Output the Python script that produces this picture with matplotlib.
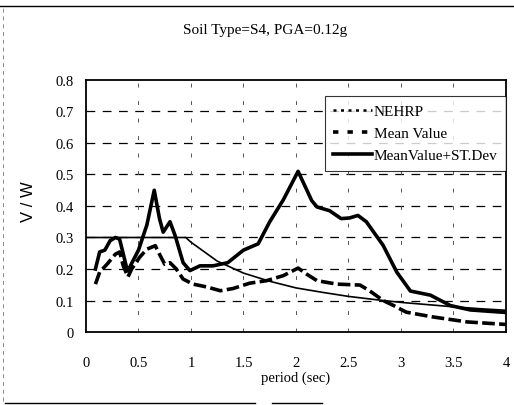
import matplotlib
matplotlib.use("Agg")
import matplotlib.pyplot as plt
from matplotlib.lines import Line2D

# NEHRP design spectrum
nehrp_T = [0.0, 0.95, 1.0, 1.25, 1.5, 1.75, 2.0, 2.25, 2.5, 2.75, 3.0, 3.25, 3.5, 3.75, 4.0]
nehrp_V = [0.30, 0.30, 0.285, 0.225, 0.187, 0.161, 0.140, 0.126, 0.113, 0.103, 0.094, 0.087, 0.080, 0.074, 0.069]

# Mean value
mean_T = [0.09, 0.13, 0.20, 0.28, 0.32, 0.355, 0.40, 0.435, 0.51, 0.58, 0.66, 0.70, 0.75, 0.80, 0.86,
          0.925, 1.02, 1.15, 1.28, 1.40, 1.56, 1.72, 1.88, 2.02, 2.10, 2.20, 2.39, 2.61, 2.70, 2.83,
          2.93, 3.05, 3.30, 3.63, 4.0]
mean_V = [0.152, 0.19, 0.215, 0.247, 0.254, 0.21, 0.175, 0.20, 0.237, 0.263, 0.274, 0.247, 0.215, 0.22, 0.20,
          0.168, 0.152, 0.143, 0.131, 0.138, 0.155, 0.163, 0.179, 0.203, 0.184, 0.163, 0.152, 0.149, 0.131, 0.100,
          0.084, 0.063, 0.048, 0.032, 0.024]

# Mean value + standard deviation
msd_T = [0.09, 0.13, 0.18, 0.23, 0.28, 0.32, 0.39, 0.40, 0.50, 0.58, 0.65, 0.70, 0.735, 0.80, 0.85,
         0.925, 0.99, 1.085, 1.21, 1.35, 1.50, 1.64, 1.75, 1.88, 2.02, 2.15, 2.20, 2.32, 2.43, 2.51,
         2.59, 2.67, 2.83, 2.96, 3.09, 3.28, 3.47, 3.66, 4.0]
msd_V = [0.20, 0.254, 0.26, 0.29, 0.30, 0.295, 0.20, 0.195, 0.26, 0.34, 0.45, 0.36, 0.317, 0.35, 0.305,
         0.22, 0.195, 0.21, 0.21, 0.22, 0.26, 0.28, 0.35, 0.42, 0.51, 0.417, 0.397, 0.385, 0.36, 0.362,
         0.37, 0.35, 0.275, 0.19, 0.13, 0.117, 0.084, 0.07, 0.062]

x_ticks = [0, 0.5, 1, 1.5, 2, 2.5, 3, 3.5, 4]
x_tick_labels = ["0", "0.5", "1", "1.5", "2", "2.5", "3", "3.5", "4"]
y_ticks = [0, 0.1, 0.2, 0.3, 0.4, 0.5, 0.6, 0.7, 0.8]
y_tick_labels = ["0", "0.1", "0.2", "0.3", "0.4", "0.5", "0.6", "0.7", "0.8"]
legend_labels = ["NEHRP", "Mean Value", "MeanValue+ST.Dev"]

serif = "Liberation Serif"

fig = plt.figure(figsize=(5.14, 4.06), dpi=100)
ax = fig.add_axes([0.1673, 0.1798, 0.8171, 0.6207])

ax.plot(nehrp_T, nehrp_V, color="black", lw=1.2, zorder=3)
ax.plot(mean_T, mean_V, color="black", lw=2.6, linestyle=(0, (3.5, 1.2)), zorder=3)
ax.plot(msd_T, msd_V, color="black", lw=2.6, zorder=4)

ax.set_xlim(0, 4)
ax.set_ylim(0, 0.8)
ax.set_xticks(x_ticks)
ax.set_xticklabels(x_tick_labels, family=serif, fontsize=10.5)
ax.set_yticks(y_ticks)
ax.set_yticklabels(y_tick_labels, family=serif, fontsize=10.5)
ax.tick_params(axis="x", length=0, pad=17)
ax.tick_params(axis="y", length=0, pad=9)

for y in y_ticks[1:-1]:
    ax.axhline(y, color="black", lw=0.9, linestyle=(0, (7, 6)), zorder=1)
for x in x_ticks[1:-1]:
    ax.axvline(x, color="#555555", lw=0.7, linestyle=(0, (4, 14)), zorder=1)

for s in ax.spines.values():
    s.set_linewidth(1.3)
    s.set_color("black")

ax.set_xlabel("period (sec)", family=serif, fontsize=10.5)
ax.xaxis.set_label_coords(0.5, -0.152)
ax.set_ylabel("V / W", family="Liberation Sans", fontsize=12)
ax.yaxis.set_label_coords(-0.118, 0.52)

fig.text(0.515, 0.926, "Soil Type=S4, PGA=0.12g", family=serif, fontsize=11,
         ha="center", va="center")

handles = [
    Line2D([], [], color="black", lw=1.8, linestyle=(0, (1.2, 1.8))),
    Line2D([], [], color="black", lw=2.6, linestyle=(0, (1.5, 2.5))),
    Line2D([], [], color="black", lw=2.6),
]
leg = ax.legend(handles, legend_labels, loc="upper right", bbox_to_anchor=(1.0, 0.937),
                prop={"family": serif, "size": 11}, frameon=True, fancybox=False,
                edgecolor="black", handlelength=2.5, handletextpad=0.15,
                borderpad=0.55, labelspacing=0.55, borderaxespad=0)
leg.get_frame().set_linewidth(0.8)

# figure frame lines
fig.add_artist(Line2D([0.0, 1.0], [0.983, 0.983], color="black", lw=1.0, transform=fig.transFigure))
fig.add_artist(Line2D([0.005, 0.005], [0.01, 0.983], color="#888888", lw=0.7,
                      linestyle=(0, (4, 4)), transform=fig.transFigure))
fig.add_artist(Line2D([0.01, 0.496], [0.006, 0.006], color="black", lw=1.0, transform=fig.transFigure))
fig.add_artist(Line2D([0.529, 0.626], [0.006, 0.006], color="black", lw=1.0, transform=fig.transFigure))

fig.savefig("out.png", dpi=100)
